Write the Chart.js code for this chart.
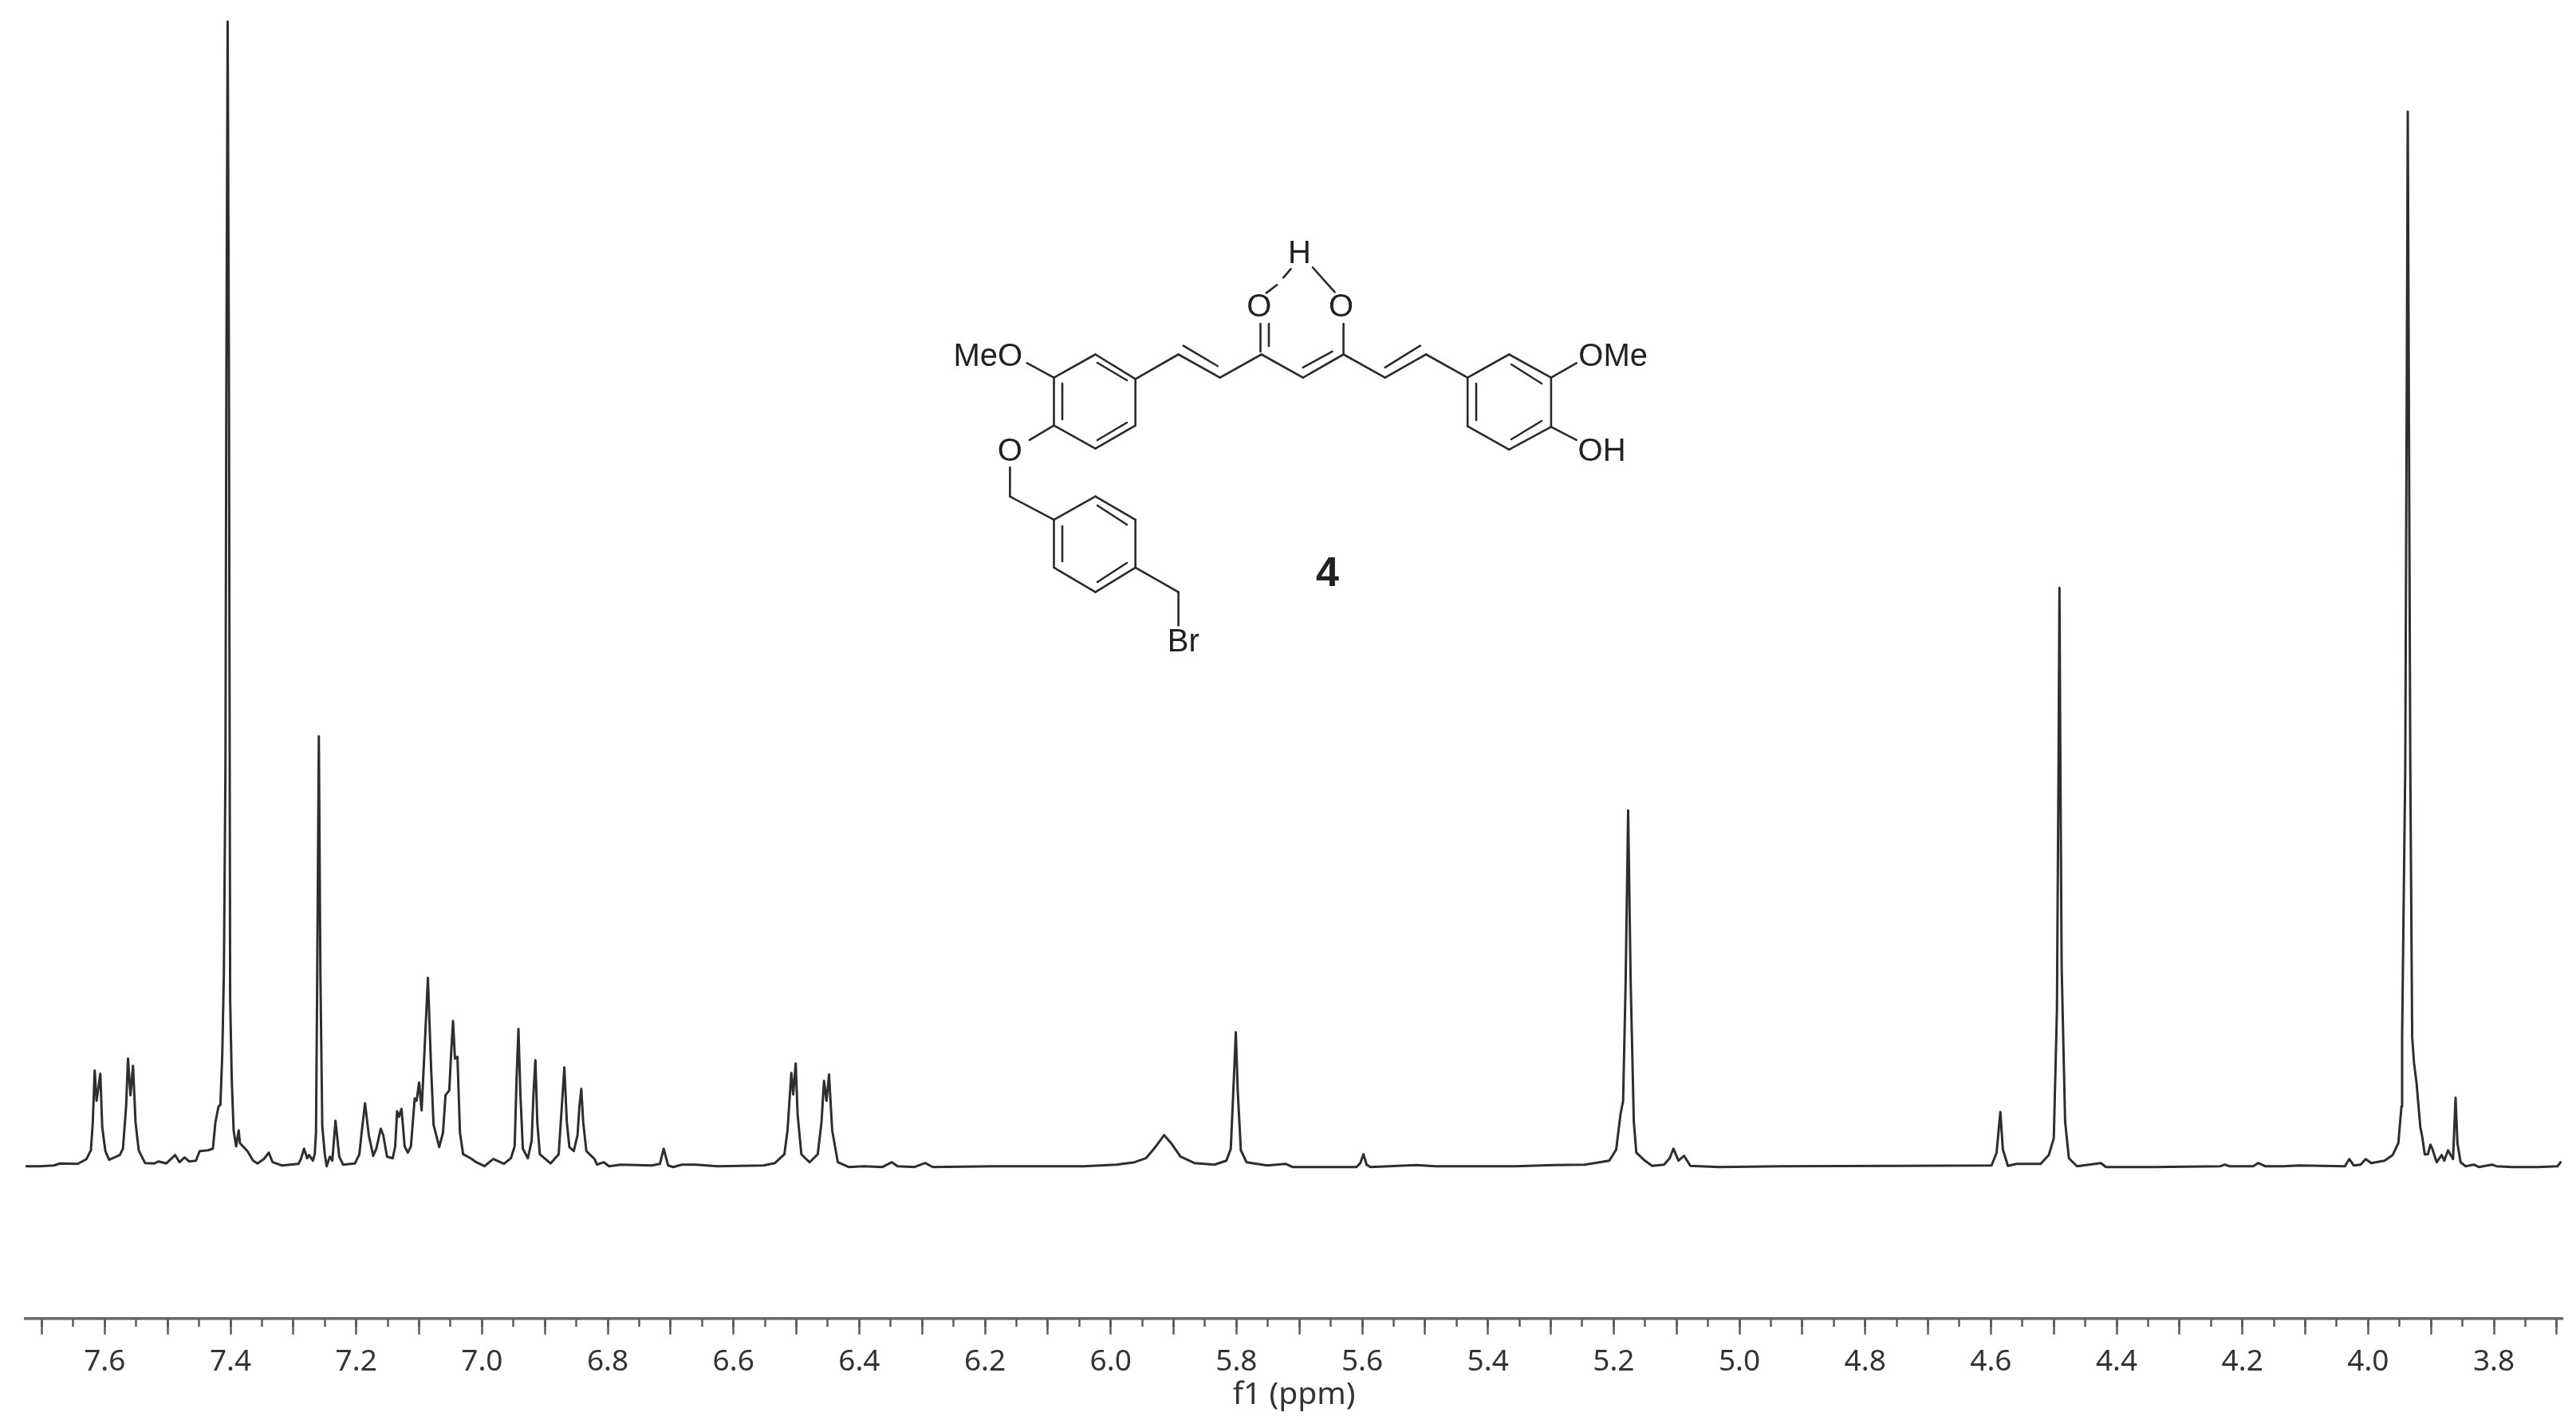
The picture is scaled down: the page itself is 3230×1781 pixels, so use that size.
<!DOCTYPE html>
<html>
<head>
<meta charset="utf-8">
<title>1H NMR spectrum of compound 4</title>
<script src="https://cdn.jsdelivr.net/npm/chart.js@4"></script>
<style>
    html, body { margin: 0; padding: 0; background: #fff; }
    #wrap { position: relative; width: 3230px; height: 1781px; overflow: hidden; }
    #nmrChart { position: absolute; left: 0; top: 0; }
    #structure { position: absolute; left: 0; top: 0; }
    #structure line { stroke: #2a2a2a; stroke-width: 2.6; stroke-linecap: round; }
    #structure text { font-family: "Liberation Sans", sans-serif; font-size: 40px; fill: #222; text-anchor: middle; dominant-baseline: central; }
    #structure text.label { font-weight: bold; font-size: 52px; }
</style>
</head>
<body>
<div id="wrap">
    <canvas id="nmrChart" width="3230" height="1781"></canvas>
    <svg id="structure" width="3230" height="1781"></svg>
</div>
<script>
// chemical shift (ppm) and intensity, left to right
const shifts = [
    7.728, 7.703, 7.681, 7.671, 7.643, 7.629, 7.622, 7.619, 7.616, 7.613, 7.607, 7.604, 7.599, 7.593, 7.576, 7.571,
    7.566, 7.563, 7.559, 7.555, 7.551, 7.546, 7.536, 7.521, 7.514, 7.502, 7.488, 7.481, 7.473, 7.466, 7.455, 7.449,
    7.436, 7.428, 7.424, 7.419, 7.416, 7.413, 7.4105, 7.408, 7.4065, 7.4045, 7.4025, 7.4005, 7.398, 7.395, 7.391, 7.387,
    7.385, 7.379, 7.373, 7.364, 7.357, 7.347, 7.339, 7.333, 7.318, 7.292, 7.288, 7.283, 7.278, 7.275, 7.269, 7.266,
    7.264, 7.262, 7.2595, 7.257, 7.254, 7.250, 7.247, 7.242, 7.238, 7.233, 7.227, 7.221, 7.202, 7.195, 7.191, 7.186,
    7.180, 7.173, 7.168, 7.161, 7.157, 7.151, 7.142, 7.138, 7.135, 7.132, 7.128, 7.123, 7.118, 7.113, 7.107, 7.104,
    7.100, 7.096, 7.092, 7.086, 7.081, 7.077, 7.068, 7.062, 7.058, 7.052, 7.049, 7.046, 7.043, 7.039, 7.035, 7.030,
    7.018, 7.009, 6.996, 6.982, 6.965, 6.954, 6.948, 6.945, 6.942, 6.939, 6.935, 6.927, 6.921, 6.918, 6.915, 6.912,
    6.908, 6.891, 6.878, 6.873, 6.869, 6.865, 6.861, 6.854, 6.848, 6.845, 6.842, 6.839, 6.834, 6.821, 6.817, 6.806,
    6.798, 6.779, 6.730, 6.717, 6.711, 6.704, 6.696, 6.682, 6.660, 6.625, 6.552, 6.534, 6.519, 6.514, 6.508, 6.505,
    6.501, 6.498, 6.492, 6.479, 6.466, 6.460, 6.456, 6.452, 6.448, 6.443, 6.434, 6.417, 6.392, 6.363, 6.348, 6.339,
    6.312, 6.295, 6.283, 6.188, 6.042, 5.991, 5.962, 5.944, 5.929, 5.915, 5.904, 5.889, 5.867, 5.835, 5.816, 5.809,
    5.804, 5.801, 5.798, 5.793, 5.784, 5.751, 5.722, 5.711, 5.609, 5.603, 5.598, 5.593, 5.587, 5.514, 5.483, 5.356,
    5.295, 5.246, 5.207, 5.196, 5.189, 5.185, 5.181, 5.177, 5.173, 5.168, 5.164, 5.152, 5.139, 5.120, 5.111, 5.105,
    5.097, 5.088, 5.078, 5.032, 4.935, 4.744, 4.599, 4.591, 4.585, 4.581, 4.573, 4.559, 4.521, 4.508, 4.500, 4.495,
    4.4925, 4.491, 4.4895, 4.4875, 4.485, 4.482, 4.476, 4.463, 4.425, 4.417, 4.341, 4.235, 4.228, 4.220, 4.183, 4.175,
    4.164, 4.135, 4.109, 4.037, 4.030, 4.023, 4.012, 4.004, 3.995, 3.974, 3.961, 3.952, 3.947, 3.946, 3.941, 3.939,
    3.937, 3.935, 3.933, 3.930, 3.927, 3.923, 3.921, 3.917, 3.914, 3.910, 3.905, 3.901, 3.898, 3.891, 3.883, 3.879,
    3.873, 3.865, 3.861, 3.858, 3.853, 3.845, 3.832, 3.824, 3.803, 3.796, 3.771, 3.729, 3.699, 3.693
];
const intensity = [
    0, 0, 1, 3.5, 3, 9, 20, 55, 120, 82, 116, 49, 19, 8, 14, 22,
    75, 135, 89, 126, 55, 20, 4, 3.5, 6, 3.5, 14, 5, 11, 6, 7, 19,
    20, 22, 55, 75, 77, 142, 242, 500, 1000, 1435, 1000, 209, 109, 45, 25, 45,
    29, 24, 19, 7, 3.5, 9, 17, 5, 1, 3, 9, 22, 10, 14, 7, 15,
    42, 242, 539, 242, 50, 15, 0, 12, 7, 57, 12, 2, 3.5, 15, 45, 79,
    39, 13, 22, 47, 39, 12, 10, 25, 69, 62, 72, 25, 17, 25, 85, 82,
    105, 70, 135, 236, 125, 52, 24, 42, 89, 95, 142, 182, 135, 137, 42, 15,
    10, 5, 0, 9, 3, 10, 25, 109, 172, 92, 22, 10, 32, 92, 133, 55,
    15, 3.5, 15, 75, 124, 55, 24, 19, 39, 75, 97, 55, 19, 9, 2, 5,
    0, 2, 1, 3, 22, 1, -1, 2, 2, 0, 1, 4, 15, 45, 117, 90,
    129, 65, 15, 5, 15, 55, 107, 82, 115, 45, 5, -1, 0, -1, 5, 0,
    -1, 4, -1, 0, 0, 2, 5, 10, 24, 39, 29, 12, 4, 2, 7, 22,
    112, 168, 95, 20, 5, 1, 3, -1, -1, 4, 15, 2, -1, 1.5, 0, 0,
    1.5, 2, 7, 21, 66, 82, 231, 446, 231, 56, 17, 8, 0.5, 2, 10, 22,
    7, 13, 0.5, -1, 0, 0.5, 1, 17, 68, 21, 0.5, 3, 3, 14, 35, 196,
    500, 725, 500, 250, 161, 56, 10, 0, 4, -1, -1, 0, 2, 0, 0, 4,
    0, 0, 1, 0, 9, 1, 2, 9, 4, 7, 14, 29, 75, 162, 500, 900,
    1322, 900, 500, 162, 129, 104, 85, 49, 37, 15, 15, 27, 22, 5, 14, 7,
    20, 9, 86, 29, 5, 0, 2, -1, 2, 0, -1, -1, 0, 6
];
const axisTitle = 'f1 (ppm)';
const labelStep = 0.2;
const majorStep = 0.1;
const minorStep = 0.05;
const xLeft = 7.726, xRight = 3.691;
const yTop = 1442, yBottom = -191;

// Chemical structure drawn over the chart (page pixels)
const bonds = [
    // left ring
    [1423.7,475.4,1373.5,444.5],[1373.5,444.5,1321.5,473.6],[1321.5,473.6,1321.5,533.6],
    [1321.5,533.6,1373.5,562.7],[1373.5,562.7,1423.7,533.6],[1423.7,533.6,1423.7,475.4],
    [1413,477,1376,455],[1332,481,1332,526],[1376,552,1413,530],
    // chain
    [1423.7,475.4,1477.6,444.5],[1477.6,444.5,1529.7,473.6],[1529.7,473.6,1581.7,444.5],
    [1581.7,444.5,1633.8,473.6],[1633.8,473.6,1684.6,444.5],[1684.6,444.5,1736.7,473.6],
    [1736.7,473.6,1788.1,444.5],[1788.1,444.5,1840.2,473.6],
    [1483.8,433.6,1526.6,459],[1633.8,460.9,1670.5,440.9],[1736.7,460.9,1780.8,433.6],
    // C=O, C-O, hydrogen bond
    [1580.5,406,1580.5,441],[1591,406,1591,434],[1684.6,406,1684.6,444.5],
    [1587.9,367.4,1601.3,357.3],[1609.3,348.2,1618.5,337.3],[1646,335.5,1673.6,366.4],
    // right ring
    [1840.2,473.6,1892.2,444.5],[1892.2,444.5,1944.9,473.6],[1944.9,473.6,1944.9,535.4],
    [1944.9,535.4,1892.2,563.8],[1892.2,563.8,1840.2,534.7],[1840.2,534.7,1840.2,473.6],
    [1895,457,1933,481],[1933,528,1895,551],[1851,481,1851,527],
    // substituents
    [1287.8,455.4,1321.5,473.6],[1290.9,551.8,1321.5,533.6],[1266.4,586.3,1266.4,622.7],
    [1266.4,622.7,1321.5,651.8],[1976.7,455.4,1944.9,473.6],[1976.7,551.8,1944.9,535.4],
    // benzyl ring and CH2Br
    [1321.5,651.8,1373.5,622.7],[1373.5,622.7,1423.7,651.8],[1423.7,651.8,1423.7,711.8],
    [1423.7,711.8,1373.5,742.7],[1373.5,742.7,1321.5,711.8],[1321.5,711.8,1321.5,651.8],
    [1376,634,1413,658],[1332,660,1332,704],[1376,730,1413,706],
    [1423.7,711.8,1477.6,742.7],[1477.6,742.7,1477.6,784.5]
];
const atoms = [
    ['MeO',1238.8,444.5],['O',1266.4,563.8],['O',1578.7,382.7],['O',1681.6,382.7],['H',1629.5,315.5],
    ['OMe',2022.7,444.5],['OH',2008.6,563.8],['Br',1483.8,802.7]
];

function drawStructure() {
    const svg = document.getElementById('structure');
    let html = bonds.map(b => `<line x1="${b[0]}" y1="${b[1]}" x2="${b[2]}" y2="${b[3]}"/>`).join('');
    html += atoms.map(a => `<text x="${a[1]}" y="${a[2]}">${a[0]}</text>`).join('');
    html += '<text class="label" x="1664.4" y="717">4</text>';
    svg.innerHTML = html;
}

function setupChart() {
    const ctx = document.getElementById('nmrChart').getContext('2d');
    return new Chart(ctx, {
        type: 'line',
        data: {
            datasets: [{
                data: shifts.map((s, i) => ({ x: s, y: intensity[i] })),
                borderColor: '#2e2e2e',
                borderWidth: 3,
                borderJoinStyle: 'round',
                pointRadius: 0,
                tension: 0,
                fill: false
            }]
        },
        options: {
            responsive: false,
            animation: false,
            layout: { padding: { left: 32, right: 17, top: 20, bottom: 8 } },
            plugins: { legend: { display: false }, tooltip: { enabled: false }, title: { display: false } },
            scales: {
                x: {
                    type: 'linear',
                    position: 'bottom',
                    reverse: true,
                    min: xRight,
                    max: xLeft,
                    grid: { drawOnChartArea: false, tickLength: 20, tickWidth: 2.4, tickColor: '#555', drawTicks: true },
                    border: { display: true, color: '#666', width: 3.5 },
                    ticks: {
                        stepSize: majorStep,
                        includeBounds: false,
                        autoSkip: false,
                        maxRotation: 0,
                        padding: 12,
                        color: '#333',
                        font: { family: '"Noto Sans"', size: 37 },
                        callback: value => {
                            const tenths = Math.round(value / majorStep);
                            return tenths % Math.round(labelStep / majorStep) === 0 ? value.toFixed(1) : '';
                        }
                    },
                    title: {
                        display: true,
                        text: axisTitle,
                        color: '#333',
                        padding: { top: -16, bottom: 0 },
                        font: { family: '"Noto Sans"', size: 39 }
                    }
                },
                xMinor: {
                    type: 'linear',
                    axis: 'x',
                    position: { y: yBottom },
                    reverse: true,
                    min: xRight,
                    max: xLeft,
                    grid: { drawOnChartArea: false, tickLength: 10, tickWidth: 2.4, tickColor: '#555' },
                    border: { display: false },
                    ticks: { display: false, stepSize: minorStep, includeBounds: false, autoSkip: false }
                },
                y: { display: false, min: yBottom, max: yTop }
            }
        }
    });
}

document.addEventListener('DOMContentLoaded', () => {
    setupChart();
    drawStructure();
});
</script>
</body>
</html>
